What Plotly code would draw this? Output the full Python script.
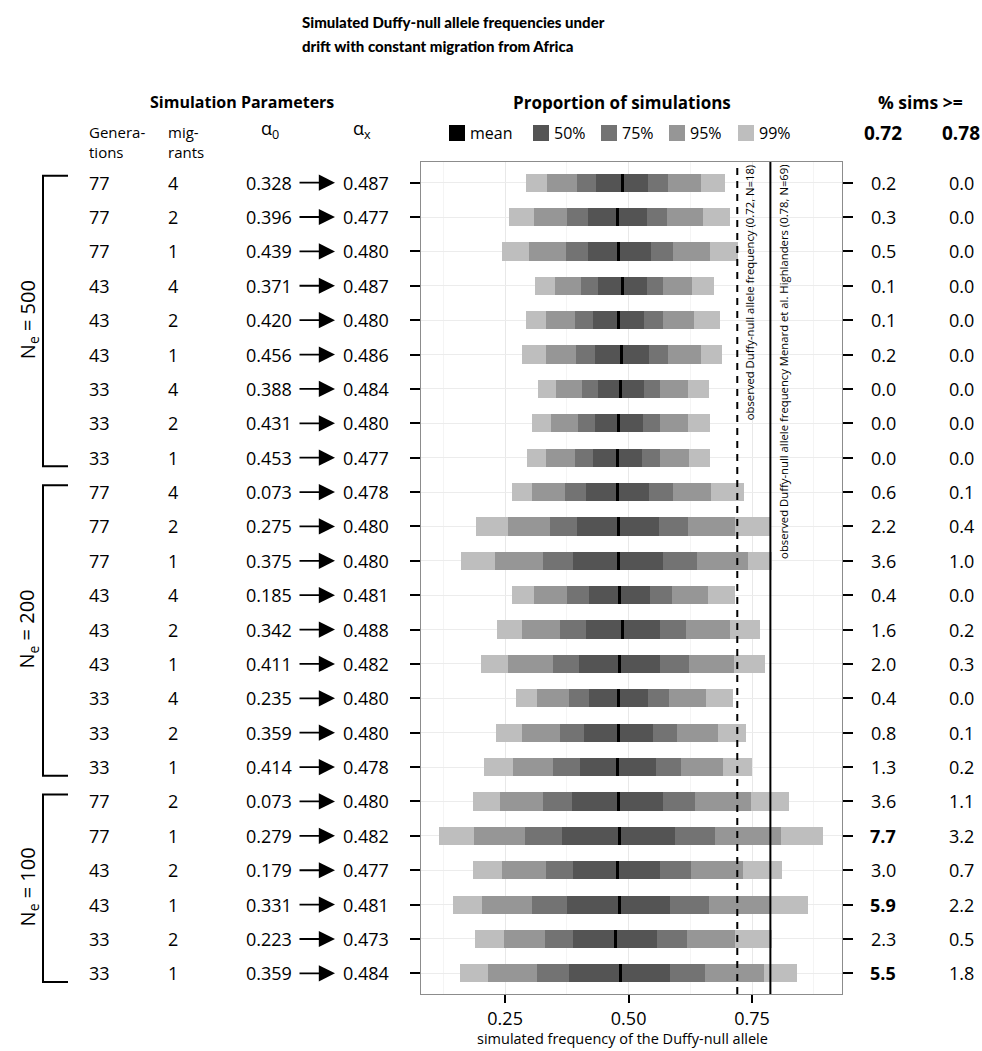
import plotly.graph_objects as go

# ---------------- data ----------------
ne_groups = ["500", "200", "100"]
ne_sizes = [9, 9, 6]
generations = [77, 77, 77, 43, 43, 43, 33, 33, 33,
               77, 77, 77, 43, 43, 43, 33, 33, 33,
               77, 77, 43, 43, 33, 33]
migrants = [4, 2, 1, 4, 2, 1, 4, 2, 1,
            4, 2, 1, 4, 2, 1, 4, 2, 1,
            2, 1, 2, 1, 2, 1]
alpha0 = [0.328, 0.396, 0.439, 0.371, 0.420, 0.456, 0.388, 0.431, 0.453,
          0.073, 0.275, 0.375, 0.185, 0.342, 0.411, 0.235, 0.359, 0.414,
          0.073, 0.279, 0.179, 0.331, 0.223, 0.359]
alphax = [0.487, 0.477, 0.480, 0.487, 0.480, 0.486, 0.484, 0.480, 0.477,
          0.478, 0.480, 0.480, 0.481, 0.488, 0.482, 0.480, 0.480, 0.478,
          0.480, 0.482, 0.477, 0.481, 0.473, 0.484]
lo99 = [0.293, 0.258, 0.243, 0.310, 0.293, 0.284, 0.316, 0.305, 0.294,
        0.263, 0.191, 0.161, 0.263, 0.234, 0.202, 0.272, 0.232, 0.208,
        0.184, 0.117, 0.185, 0.144, 0.190, 0.158]
lo95 = [0.335, 0.309, 0.299, 0.350, 0.332, 0.332, 0.354, 0.343, 0.332,
        0.305, 0.256, 0.230, 0.308, 0.284, 0.255, 0.314, 0.285, 0.266,
        0.240, 0.187, 0.243, 0.204, 0.247, 0.215]
lo75 = [0.396, 0.375, 0.373, 0.404, 0.392, 0.394, 0.406, 0.398, 0.392,
        0.371, 0.341, 0.326, 0.375, 0.361, 0.347, 0.379, 0.362, 0.347,
        0.326, 0.291, 0.333, 0.305, 0.331, 0.314]
lo50 = [0.433, 0.418, 0.418, 0.439, 0.427, 0.432, 0.439, 0.432, 0.427,
        0.413, 0.396, 0.387, 0.419, 0.413, 0.400, 0.420, 0.410, 0.402,
        0.386, 0.365, 0.388, 0.375, 0.388, 0.380]
hi50 = [0.540, 0.537, 0.545, 0.537, 0.532, 0.541, 0.531, 0.529, 0.527,
        0.541, 0.561, 0.569, 0.543, 0.563, 0.563, 0.539, 0.549, 0.555,
        0.569, 0.594, 0.563, 0.584, 0.557, 0.584]
hi75 = [0.579, 0.578, 0.589, 0.570, 0.570, 0.580, 0.563, 0.563, 0.563,
        0.590, 0.620, 0.639, 0.588, 0.616, 0.622, 0.582, 0.598, 0.607,
        0.634, 0.675, 0.626, 0.663, 0.618, 0.654]
hi95 = [0.646, 0.650, 0.664, 0.628, 0.632, 0.646, 0.621, 0.621, 0.623,
        0.666, 0.715, 0.741, 0.660, 0.705, 0.713, 0.656, 0.681, 0.692,
        0.747, 0.808, 0.732, 0.786, 0.716, 0.775]
hi99 = [0.695, 0.706, 0.721, 0.673, 0.684, 0.689, 0.662, 0.664, 0.664,
        0.733, 0.786, 0.790, 0.715, 0.766, 0.777, 0.712, 0.737, 0.749,
        0.824, 0.894, 0.811, 0.863, 0.790, 0.840]
pct_072 = [0.2, 0.3, 0.5, 0.1, 0.1, 0.2, 0.0, 0.0, 0.0,
           0.6, 2.2, 3.6, 0.4, 1.6, 2.0, 0.4, 0.8, 1.3,
           3.6, 7.7, 3.0, 5.9, 2.3, 5.5]
pct_078 = [0.0, 0.0, 0.0, 0.0, 0.0, 0.0, 0.0, 0.0, 0.0,
           0.1, 0.4, 1.0, 0.0, 0.2, 0.3, 0.0, 0.1, 0.2,
           1.1, 3.2, 0.7, 2.2, 0.5, 1.8]
observed = [0.72, 0.787]
observed_headers = ["0.72", "0.78"]
observed_labels = ["observed Duffy-null allele frequency (0.72, N=18)",
                   "observed Duffy-null allele frequency Menard et al. Highlanders (0.78, N=69)"]
interval_names = ["99%", "95%", "75%", "50%"]
interval_colors = ["#bebebe", "#969696", "#737373", "#545454"]
mean_color = "#000000"
bold_threshold = 5.0
title_lines = ["Simulated Duffy-null allele frequencies under",
               "drift with constant migration from Africa"]
x_ticks = [0.25, 0.5, 0.75]
x_tick_labels = ["0.25", "0.50", "0.75"]
x_minor = [0.125, 0.375, 0.625, 0.875]
x_title = "simulated frequency of the Duffy-null allele"

# ---------------- geometry helpers ----------------
FIG_W, FIG_H = 982, 1051
ML, MR, MT, MB = 421, 140, 162, 57
PW = FIG_W - ML - MR
PH = FIG_H - MT - MB
FONT = "Open Sans"


def px(x):
    return (x - ML) / PW


def py(y):
    return (FIG_H - MB - y) / PH


n = len(alphax)
rows = list(range(n))
BAR_W = 0.53

fig = go.Figure()
los = [lo99, lo95, lo75, lo50]
his = [hi99, hi95, hi75, hi50]
for name, col, lo, hi in zip(interval_names, interval_colors, los, his):
    fig.add_trace(go.Bar(
        y=rows, x=[h - l for l, h in zip(lo, hi)], base=lo, orientation="h",
        width=BAR_W, marker=dict(color=col, line=dict(width=0)),
        name=name, showlegend=False))
MEAN_W = 0.006
fig.add_trace(go.Bar(
    y=rows, x=[MEAN_W] * n, base=[m - MEAN_W / 2 for m in alphax], orientation="h",
    width=BAR_W, marker=dict(color=mean_color, line=dict(width=0)),
    name="mean", showlegend=False))

shapes = []
annotations = []
TXT = dict(family=FONT, size=18, color="#000000")


def ann(x, y, text, font, xanchor="center", yanchor="middle", xref="paper", yref="paper", **kw):
    d = dict(x=x, y=y, xref=xref, yref=yref, text=text, showarrow=False,
             xanchor=xanchor, yanchor=yanchor, font=font)
    d.update(kw)
    annotations.append(d)


# observed lines
for val, dash in zip(observed, ["7px,6px", "solid"]):
    shapes.append(dict(type="line", xref="x", yref="paper", x0=val, x1=val, y0=0, y1=1,
                       line=dict(color="black", width=2, dash=dash), layer="above"))
for val, lab in zip(observed, observed_labels):
    ann(val, 1, lab, dict(family=FONT, size=11.3, color="black"), xanchor="left", yanchor="top",
        xref="x", textangle=-90, xshift=3, yshift=-1)

# left/right table rows
for i in rows:
    ann(px(87), i, str(generations[i]), TXT, xanchor="left", yref="y")
    ann(px(166), i, str(migrants[i]), TXT, xanchor="left", yref="y")
    ann(px(294), i, f"{alpha0[i]:.3f}", TXT, xanchor="right", yref="y")
    ann(px(341), i, f"{alphax[i]:.3f}", TXT, xanchor="left", yref="y")
    annotations.append(dict(x=px(335), y=i, xref="paper", yref="y", text="", showarrow=True,
                            ax=-37, ay=0, axref="pixel", ayref="pixel", arrowhead=2, arrowsize=1.8,
                            arrowwidth=1.8, arrowcolor="black", standoff=0, startstandoff=0))
    t1 = f"{pct_072[i]:.1f}"
    t2 = f"{pct_078[i]:.1f}"
    ann(px(883), i, f"<b>{t1}</b>" if pct_072[i] >= bold_threshold else t1, TXT, yref="y")
    ann(px(961), i, f"<b>{t2}</b>" if pct_078[i] >= bold_threshold else t2, TXT, yref="y")

# Ne groups and brackets
start = 0
for g, size in zip(ne_groups, ne_sizes):
    end = start + size - 1
    mid = (start + end) / 2
    ann(px(28), mid, f"N<sub>e</sub> = {g}", dict(family=FONT, size=20, color="black"),
        yref="y", textangle=-90)
    y0 = start - 0.2
    y1 = end + 0.25
    x0 = px(43)
    x1 = px(68)
    shapes.append(dict(type="path", xref="paper", yref="y",
                       path=f"M {x1} {y0} L {x0} {y0} L {x0} {y1} L {x1} {y1}",
                       line=dict(color="black", width=2)))
    start = end + 1

# headers
HB = dict(family=FONT, size=16, color="black")
TITLE_FONT = dict(family="Lato", size=15, color="black", weight=900)
ann(px(300), py(22), title_lines[0], TITLE_FONT, xanchor="left")
ann(px(300), py(46), title_lines[1], TITLE_FONT, xanchor="left")
ann(px(242), py(102), "<b>Simulation Parameters</b>", HB)
ann(px(622), py(102), "<b>Proportion of simulations</b>", dict(family=FONT, size=17, color="black"))
ann(px(920), py(102), "<b>% sims >=</b>", dict(family=FONT, size=17.5, color="black"))
ann(px(87), py(142), "Genera-<br>tions", dict(family=FONT, size=15, color="black"),
    xanchor="left", align="left")
ann(px(166), py(142), "mig-<br>rants", dict(family=FONT, size=15, color="black"),
    xanchor="left", align="left")
ann(px(270), py(130), "α<sub>0</sub>", dict(family=FONT, size=18, color="black"))
ann(px(362), py(130), "α<sub>x</sub>", dict(family=FONT, size=18, color="black"))
ann(px(883), py(133), f"<b>{observed_headers[0]}</b>", dict(family=FONT, size=19, color="black"))
ann(px(961), py(133), f"<b>{observed_headers[1]}</b>", dict(family=FONT, size=19, color="black"))
ann(px(622), py(1038), x_title, dict(family=FONT, size=14.5, color="black"))

# custom legend
leg_names = ["mean"] + interval_names[::-1]
leg_colors = [mean_color] + interval_colors[::-1]
leg_x = [449, 533, 601, 669, 738]
for name, col, lx in zip(leg_names, leg_colors, leg_x):
    shapes.append(dict(type="rect", xref="paper", yref="paper",
                       x0=px(lx), x1=px(lx + 16), y0=py(141), y1=py(125),
                       fillcolor=col, line=dict(width=0)))
    ann(px(lx + 19), py(133), name, dict(family=FONT, size=16, color="black"), xanchor="left")

fig.update_layout(
    width=FIG_W, height=FIG_H,
    margin=dict(l=ML, r=MR, t=MT, b=MB),
    paper_bgcolor="white", plot_bgcolor="white",
    barmode="overlay", bargap=0,
    showlegend=False,
    shapes=shapes, annotations=annotations,
    font=dict(family=FONT, color="black"),
    xaxis=dict(range=[0.0797, 0.932], tickvals=x_ticks, ticktext=x_tick_labels,
               ticks="outside", ticklen=8, tickwidth=2, tickcolor="black",
               showline=True, linecolor="#8c8c8c", linewidth=1, mirror=True,
               showgrid=True, gridcolor="#e8e8e8", gridwidth=1, zeroline=False,
               minor=dict(tickvals=x_minor, showgrid=True, gridcolor="#f4f4f4", ticks=""),
               tickfont=dict(family=FONT, size=18, color="black")),
    yaxis=dict(range=[n - 0.4, -0.6], tickvals=rows, showticklabels=False,
               ticks="outside", ticklen=10, tickwidth=2, tickcolor="black",
               showline=True, linecolor="#8c8c8c", linewidth=1, mirror="ticks",
               showgrid=True, gridcolor="#ececec", zeroline=False),
)

fig.write_html("out.html")
